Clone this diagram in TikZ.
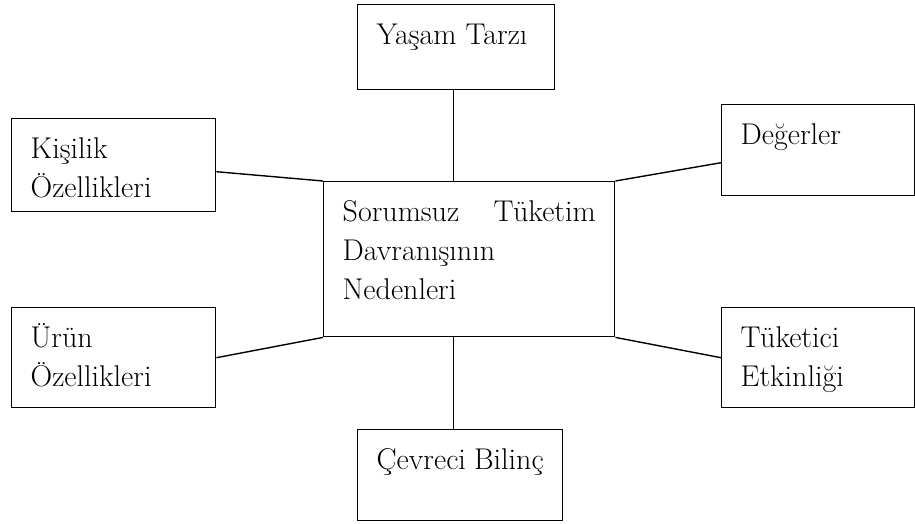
\documentclass[tikz,border=0pt]{standalone}
\usepackage{fontspec}
\newcommand{\kutuyazi}[3]{\parbox[c][#2][t]{#1}{\raggedright\parskip=0pt\rule{0pt}{40pt}#3}}
\begin{document}
\begin{tikzpicture}[x=1pt,y=-1pt,
  kutu/.style={draw,line width=1.4pt,anchor=north west,inner xsep=19pt,inner ysep=0pt,
    font=\fontsize{30}{39}\selectfont},
  bag/.style={line width=1.4pt}]
\useasboundingbox (0,0) rectangle (915,523);
% merkez kutu
\node[kutu] (merkez) at (323,181) {\kutuyazi{253pt}{155pt}{Sorumsuz\hfill Tüketim\\Davranışının\\Nedenleri}};
% dis kutular
\node[kutu] (yasam) at (357,4) {\kutuyazi{159pt}{85pt}{Yaşam Tarzı}};
\node[kutu] (kisilik) at (11,118) {\kutuyazi{166pt}{93pt}{Kişilik\\Özellikleri}};
\node[kutu] (deger) at (721,104) {\kutuyazi{155pt}{91pt}{Değerler}};
\node[kutu] (urun) at (11,307) {\kutuyazi{166pt}{100pt}{Ürün\\Özellikleri}};
\node[kutu] (tuketici) at (721,307) {\kutuyazi{155pt}{100pt}{Tüketici\\Etkinliği}};
\node[kutu] (cevre) at (357,429) {\kutuyazi{167pt}{91pt}{Çevreci Bilinç}};
% baglantilar
\draw[bag] ([xshift=-2.5pt]yasam.south) -- ([xshift=-2.5pt]yasam.south |- merkez.north);
\draw[bag] ([xshift=-2.5pt]merkez.south -| yasam.south) -- ([xshift=-2.5pt]cevre.north -| yasam.south);
\draw[bag] ([yshift=-6.5pt]kisilik.east) -- (merkez.north west);
\draw[bag] ([yshift=-12.5pt]deger.west) -- (merkez.north east);
\draw[bag] (urun.east) -- (merkez.south west);
\draw[bag] (tuketici.west) -- (merkez.south east);
\end{tikzpicture}
\end{document}
